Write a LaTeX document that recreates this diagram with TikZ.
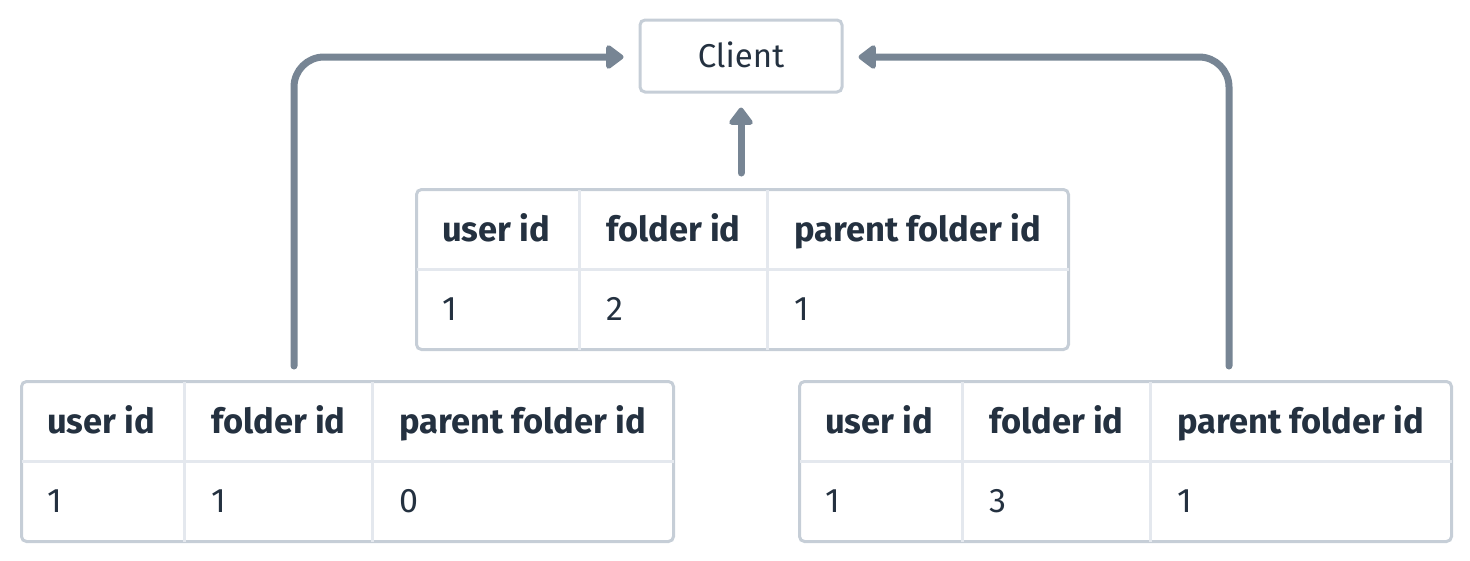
\documentclass[tikz,border=0pt]{standalone}
\usepackage{fontspec}
\setmainfont{Fira Sans}
\usetikzlibrary{arrows.meta,calc}
\definecolor{txt}{HTML}{243140}
\definecolor{outerln}{HTML}{C6CED7}
\definecolor{innerln}{HTML}{E4E8EE}
\definecolor{arrowc}{HTML}{778594}
\tikzset{
  x=1pt,y=-1pt,
  outerbox/.style={draw=outerln,line width=3pt,rounded corners=5pt},
  innerline/.style={draw=innerln,line width=3pt},
  cell/.style={anchor=base west,inner sep=0pt,text=txt,font=\fontsize{34}{40}\selectfont},
  hcell/.style={cell,font=\fontsize{34.5}{40}\selectfont\bfseries},
  arr/.style={draw=arrowc,line width=7pt,line cap=round,rounded corners=30pt,
    -{Triangle[width=27pt,length=19pt,round]}},
}
% #1 name, #2 left x, #3 top y, #4-#6 values
\newcommand{\foldertable}[6]{%
  \node[outerbox,minimum width=652pt,minimum height=160pt,anchor=north west,inner sep=0pt] (#1) at (#2,#3) {};
  \draw[innerline] ($(#1.north west)+(164,1.5)$) -- ($(#1.south west)+(164,-1.5)$);
  \draw[innerline] ($(#1.north west)+(352,1.5)$) -- ($(#1.south west)+(352,-1.5)$);
  \draw[innerline] ($(#1.west)+(1.5,0)$) -- ($(#1.east)+(-1.5,0)$);
  \node[hcell] (#1-h1) at ($(#1.north west)+(27,53)$) {user id};
  \node[hcell] (#1-h2) at ($(#1.north west)+(191,53)$) {folder id};
  \node[hcell] (#1-h3) at ($(#1.north west)+(379,53)$) {parent folder id};
  \node[cell] (#1-v1) at ($(#1.north west)+(27,132)$) {#4};
  \node[cell] (#1-v2) at ($(#1.north west)+(191,132)$) {#5};
  \node[cell] (#1-v3) at ($(#1.north west)+(379,132)$) {#6};
}
\begin{document}
\begin{tikzpicture}
\useasboundingbox (0,0) rectangle (1470,560);
\node[outerbox,minimum width=202pt,minimum height=72pt,inner sep=0pt] (client) at (741,56) {};
\node[anchor=base,inner sep=0pt,text=txt,font=\fontsize{33}{40}\selectfont] (clientlbl) at (741,67) {Client};
\foldertable{mid}{415}{188}{1}{2}{1}
\foldertable{lt}{20}{380}{1}{1}{0}
\foldertable{rt}{798}{380}{1}{3}{1}
\coordinate (la) at (294,366);
\coordinate (ra) at (1229,366);
\coordinate (ma) at (741,173);
\draw[arr] (la) |- ($(client.west)+(-15,1)$);
\draw[arr] (ra) |- ($(client.east)+(15,1)$);
\draw[arr] (ma) -- ($(client.south)+(0,14)$);
\end{tikzpicture}
\end{document}
